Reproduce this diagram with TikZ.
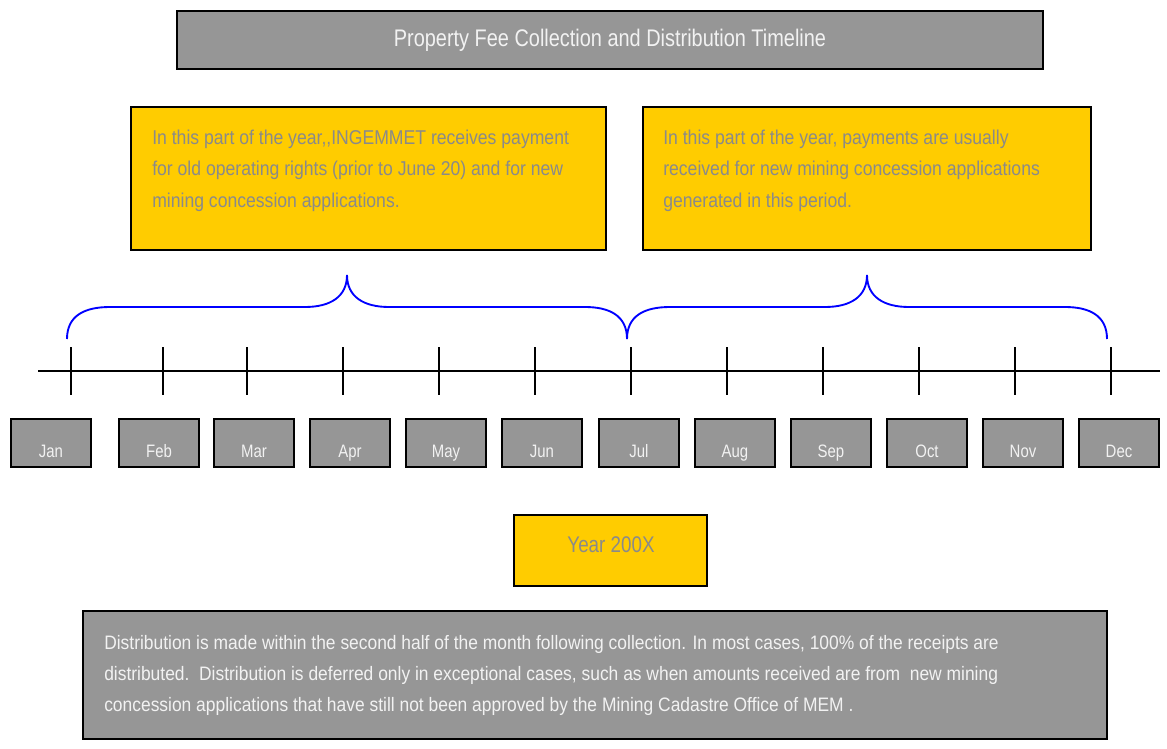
\documentclass[tikz,border=0pt]{standalone}
\usepackage{fontspec}
\setmainfont[FakeStretch=0.83]{Liberation Sans}
\newfontfamily\yfont[FakeStretch=0.88]{Liberation Sans}
\newfontfamily\bfont[FakeStretch=0.895]{Liberation Sans}
\usetikzlibrary{fit}
\definecolor{boxgray}{HTML}{969696}
\definecolor{boxyellow}{HTML}{FFCC00}
\definecolor{txtgray}{HTML}{8A8A8A}
\definecolor{txtwhite}{HTML}{F2F2F2}
\definecolor{braceblue}{HTML}{0000FF}
\tikzset{
  graybox/.style={draw=black, line width=1.3pt, fill=boxgray, inner sep=0pt},
  yellowbox/.style={draw=black, line width=1.5pt, fill=boxyellow, inner sep=0pt},
  monthbox/.style={draw=black, line width=1.5pt, fill=boxgray, inner sep=0pt},
  titletext/.style={inner sep=0pt, anchor=base, text=txtwhite, font=\fontsize{18}{22}\selectfont},
  yellowtext/.style={inner sep=0pt, anchor=base west, align=left, text=txtgray, font=\yfont\fontsize{15}{23.8}\selectfont},
  monthtext/.style={inner sep=0pt, anchor=base, text=txtwhite, font=\fontsize{13.5}{16}\selectfont},
  yeartext/.style={inner sep=0pt, anchor=base, text=txtgray, font=\fontsize{17}{20}\selectfont},
  bottomtext/.style={inner sep=0pt, anchor=base west, align=left, text=txtwhite, font=\bfont\fontsize{14.6}{23.25}\selectfont},
  axis/.style={draw=black, line width=1pt},
  tick/.style={draw=black, line width=1pt},
  brace/.style={draw=braceblue, line width=1.4pt},
}
\begin{document}
\begin{tikzpicture}[x=0.75pt, y=-0.75pt]
\useasboundingbox (0,0) rectangle (1167,749);

% title
\node[graybox, fit={(177,11) (1043,69)}] (title) {};
\node[titletext] (titlet) at (610,47) {Property Fee Collection and Distribution Timeline};

% yellow boxes (anchor = baseline of last line)
\node[yellowbox, fit={(131,107) (606,250)}] (y1) {};
\node[yellowtext] (y1t) at (152,207.5) {In this part of the year,\kern0pt,INGEMMET receives payment\\for old operating rights (prior to June 20) and for new\\mining concession applications.};
\node[yellowbox, fit={(643,107) (1091,250)}] (y2) {};
\node[yellowtext] (y2t) at (663,207.5) {In this part of the year, payments are usually\\received for new mining concession applications\\generated in this period.};

% braces
\coordinate (b1l) at (67,339);
\coordinate (b1p) at (347,275);
\coordinate (bm) at (627,339);
\coordinate (b2p) at (867,275);
\coordinate (b2r) at (1107,339);
\draw[brace] (b1l) .. controls (67,316) and (84,307) .. (110,307) -- (305,307)
  .. controls (330,307) and (347,297) .. (b1p)
  .. controls (347,297) and (364,307) .. (389,307) -- (585,307)
  .. controls (610,307) and (627,316) .. (bm);
\draw[brace] (bm) .. controls (627,316) and (644,307) .. (670,307) -- (825,307)
  .. controls (850,307) and (867,297) .. (b2p)
  .. controls (867,297) and (884,307) .. (909,307) -- (1065,307)
  .. controls (1090,307) and (1107,316) .. (b2r);

% timeline
\coordinate (axl) at (38,371);
\coordinate (axr) at (1160,371);
\draw[axis] (axl) -- (axr);
\foreach \t in {71,163,247,343,439,535,631,727,823,919,1015,1111}{
  \draw[tick] (\t,347) -- (\t,395);
}

% months
\foreach \m/\x in {Jan/11,Feb/119,Mar/214,Apr/310,May/406,Jun/502,Jul/599,Aug/695,Sep/791,Oct/887,Nov/983,Dec/1079}{
  \node[monthbox, fit={(\x,419) (\x+80,467)}] (m\m) {};
  \node[monthtext] (t\m) at (\x+40,457) {\m};
}

% year
\node[yellowbox, fit={(514,515) (707,586)}] (year) {};
\node[yeartext] (yeart) at (611,552) {Year 200X};

% bottom (anchor = baseline of last line)
\node[graybox, fit={(83,611) (1107,739)}] (bottom) {};
\node[bottomtext] (bottomt) at (104,711) {Distribution is made within the second half of the month following collection. In most cases, 100\% of the receipts are\\distributed.\ \ Distribution is deferred only in exceptional cases, such as when amounts received are from\ \ new mining\\concession applications that have still not been approved by the Mining Cadastre Office of MEM .};
\end{tikzpicture}
\end{document}
